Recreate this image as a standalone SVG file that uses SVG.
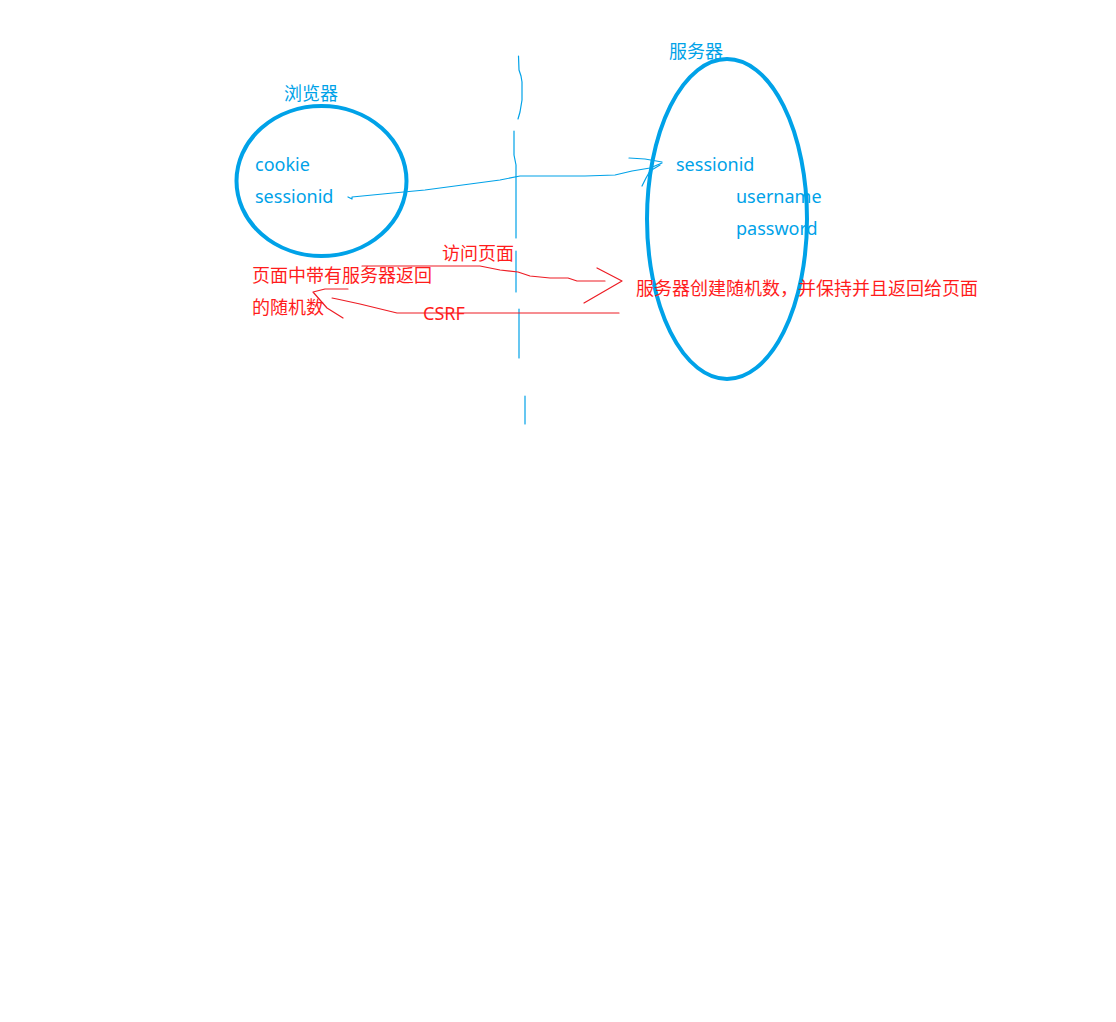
<svg xmlns="http://www.w3.org/2000/svg" width="1116" height="1022" viewBox="0 0 1116 1022">
<style>
.bg{fill:#ffffff}
.node{fill:none;stroke:#00a2e8;stroke-width:4}
.blue{fill:#00a2e8;font-family:"Noto Sans","Noto Sans CJK SC",sans-serif;font-size:18px}
.red{fill:#ff1c1c;font-family:"Noto Sans","Noto Sans CJK SC",sans-serif;font-size:18px}
.bl{fill:none;stroke:#00a2e8;stroke-width:1.2;stroke-linejoin:round;stroke-linecap:round}
.rl{fill:none;stroke:#ed1c24;stroke-width:1.2;stroke-linejoin:round;stroke-linecap:round}
</style>
<rect class="bg" x="0" y="0" width="1116" height="1022"/>
<g id="divider">
<path class="bl" d="M518.5,56 L519,70 L521,76 L522,82 L522,100 L520,112 L518,119"/>
<path class="bl" d="M514,131 L514,155 L515,160 L516,165 L516,238"/>
<path class="bl" d="M516,251 L516,292"/>
<path class="bl" d="M519,309 L519,358"/>
<path class="bl" d="M525,396 L525,424"/>
</g>
<g id="browser">
<ellipse class="node" cx="321.5" cy="181" rx="85" ry="75"/>
<text class="blue" x="284" y="100">浏览器</text>
<text class="blue" x="255" y="171">cookie</text>
<text class="blue" x="255" y="203">sessionid</text>
</g>
<g id="server">
<ellipse class="node" cx="727" cy="219" rx="80" ry="160"/>
<text class="blue" x="669" y="58">服务器</text>
<text class="blue" x="676" y="171">sessionid</text>
<text class="blue" x="736" y="203">username</text>
<text class="blue" x="736" y="235">password</text>
</g>
<g id="browser-note">
<text class="red" x="252" y="282">页面中带有服务器返回</text>
<text class="red" x="252" y="314">的随机数</text>
</g>
<g id="server-note">
<text class="red" x="636" y="295">服务器创建随机数，并保持并且返回给页面</text>
</g>
<g id="connectors">
<path class="bl" d="M348,197 L352,199 L352,197 L393,193 L425,190 L470,184 L500,180 L520,176 L585,176 L615,175 L632,171 L650,168 L662,163"/>
<path class="bl" d="M629,158 L645,159 L662,162"/>
<path class="bl" d="M642,186 L646,178 L650,171 L660,165"/>
<path class="rl" d="M362,266 L480,266 L500,270 L518,272 L530,276 L550,278 L568,278 L577,281 L605,281"/>
<path class="rl" d="M597,268 L622,281 L584,303"/>
<path class="rl" d="M619,313 L397,313 L360,304 L337,299 L332,298"/>
<path class="rl" d="M348,289 L325,289 L313,292 L327,308 L343,318"/>
<text class="red" x="442" y="260">访问页面</text>
<text class="red" x="423" y="320">CSRF</text>
</g>
</svg>
